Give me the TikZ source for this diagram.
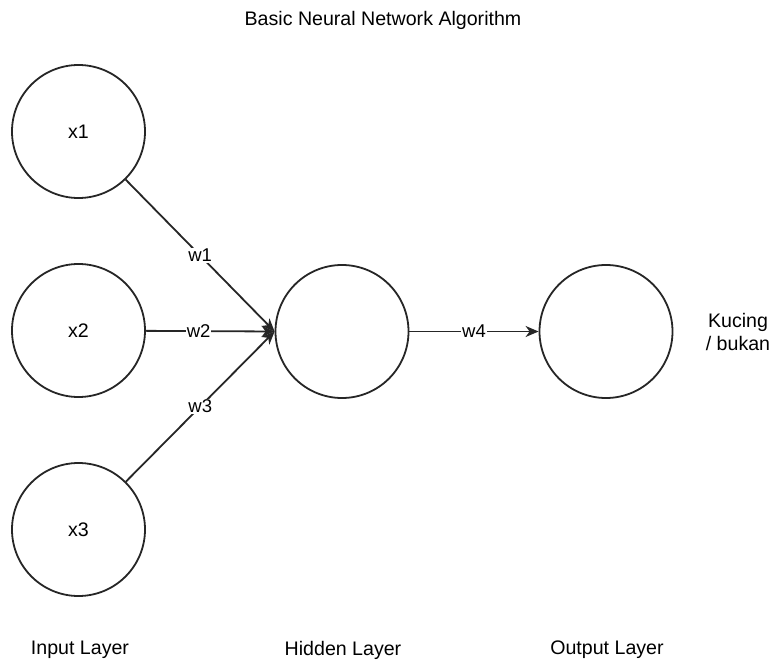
\documentclass[tikz,border=0pt]{standalone}
\usepackage{fontspec}
\setmainfont{Liberation Sans}
\usetikzlibrary{arrows.meta}
\begin{document}
\begin{tikzpicture}[x=1pt,y=1pt,
  neuron/.style={circle,draw=black!85,line width=1.8pt,minimum size=133pt,inner sep=0pt,
    font=\fontsize{19.6}{23}\selectfont},
  link/.style={draw=black!85,line width=1.8pt,-{Stealth[length=13pt,width=11pt,inset=4pt]}},
  wlabel/.style={fill=white,inner sep=1pt,font=\fontsize{18.5}{22}\selectfont},
  caption/.style={font=\fontsize{19.6}{23}\selectfont,align=center}]
\useasboundingbox[fill=white] (0,0) rectangle (774,-661);

\node[caption] (title) at (383,-20) {Basic Neural Network Algorithm};

\node[neuron] (x1) at (78.5,-131.5) {x1};
\node[neuron] (x2) at (78.5,-330.5) {x2};
\node[neuron] (x3) at (78.5,-529.5) {x3};
\node[neuron] (h)  at (342,-331.5) {};
\node[neuron] (o)  at (606,-331.5) {};

\draw[link] (x1) -- (h.west) node[wlabel,pos=0.5] {w1};
\draw[link] (x2) -- (h.west) node[wlabel,pos=0.41] {w2};
\draw[link] (x3) -- (h.west) node[wlabel,pos=0.5] {w3};
\draw[link] (h.east) -- (o.west) node[wlabel,pos=0.5] {w4};

\node[caption] (out) at (738,-332) {Kucing\\/ bukan};

\node[caption] (lin)  at (80,-650)  {Input Layer};
\node[caption] (lhid) at (343,-650) {Hidden Layer};
\node[caption] (lout) at (607,-650) {Output Layer};
\end{tikzpicture}
\end{document}
